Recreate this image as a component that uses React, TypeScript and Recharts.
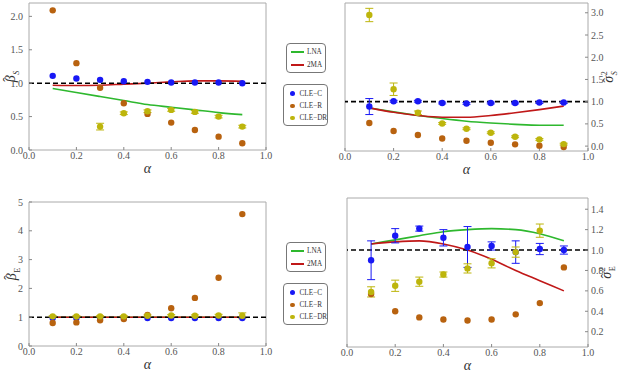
import React from 'react';
import {
    ComposedChart,
    Line,
    Scatter,
    XAxis,
    YAxis,
    ReferenceLine,
    ReferenceArea,
    ErrorBar,
} from 'recharts';

const FONT = '"Liberation Serif", "DejaVu Serif", serif';
const GREEN = '#2eb82e';
const RED = '#c01818';
const BLUE = '#1818f5';
const ORANGE = '#b8620f';
const OLIVE = '#bdb50c';
const FRAME = '#aaaaaa';

const alpha = [0.1, 0.2, 0.3, 0.4, 0.5, 0.6, 0.7, 0.8, 0.9];
const xTicks = [0, 0.2, 0.4, 0.6, 0.8, 1];

// beta_S (top left)
const betaSLna = [0.92, 0.86, 0.8, 0.74, 0.68, 0.64, 0.6, 0.56, 0.53];
const betaSMa = [0.97, 0.965, 0.97, 0.985, 1.0, 1.02, 1.035, 1.035, 1.03];
const betaSC = [1.11, 1.07, 1.05, 1.03, 1.02, 1.01, 1.01, 1.01, 1.0];
const betaSR = [2.09, 1.3, 0.93, 0.7, 0.54, 0.41, 0.3, 0.2, 0.1];
const betaSDR = [null, null, 0.35, 0.55, 0.58, 0.6, 0.57, 0.5, 0.35];
const betaSDRErr = [0, 0, 0.05, 0.02, 0.02, 0.02, 0.02, 0.02, 0.02];

// sigma_S^2 (top right)
const sigSLna = [0.86, 0.77, 0.69, 0.62, 0.56, 0.52, 0.49, 0.47, 0.47];
const sigSMa = [0.86, 0.76, 0.69, 0.65, 0.65, 0.69, 0.75, 0.82, 0.9];
const sigSC = [0.89, 1.01, 1.01, 0.97, 0.96, 0.97, 0.97, 0.98, 0.98];
const sigSCErr = [0.18, 0.02, 0.02, 0.02, 0.02, 0.02, 0.02, 0.02, 0.02];
const sigSR = [0.52, 0.34, 0.25, 0.17, 0.12, 0.075, 0.04, 0.01, -0.02];
const sigSDR = [2.95, 1.28, 0.75, 0.51, 0.39, 0.3, 0.21, 0.15, 0.045];
const sigSDRErr = [0.15, 0.14, 0.04, 0.02, 0.02, 0.02, 0.02, 0.02, 0.02];

// beta_E (bottom left)
const betaELna = [1, 1, 1, 1, 1, 1, 1, 1, 1];
const betaEMa = [1, 1, 1, 1, 1, 1, 1, 1, 1];
const betaEC = [0.97, 0.97, 0.97, 0.97, 0.97, 0.97, 0.97, 0.97, 0.97];
const betaER = [0.8, 0.82, 0.89, 0.94, 1.08, 1.31, 1.67, 2.37, 4.58];
const betaEDR = [1.03, 1.03, 1.03, 1.03, 1.05, 1.06, 1.05, 1.06, 1.05];
const betaEDRErr = [0.02, 0.02, 0.02, 0.02, 0.03, 0.03, 0.03, 0.04, 0.1];

// sigma_E^2 (bottom right)
const sigELna = [1.06, 1.1, 1.14, 1.18, 1.2, 1.21, 1.2, 1.16, 1.09];
const sigEMa = [1.06, 1.08, 1.09, 1.06, 1.0, 0.91, 0.8, 0.7, 0.6];
const sigEC = [0.9, 1.14, 1.21, 1.12, 1.03, 1.04, 0.98, 1.01, 1.0];
const sigECErr = [0.19, 0.07, 0.025, 0.08, 0.2, 0.04, 0.11, 0.055, 0.04];
const sigER = [0.57, 0.4, 0.34, 0.32, 0.31, 0.32, 0.37, 0.48, 0.83];
const sigEDR = [0.59, 0.65, 0.69, 0.76, 0.82, 0.87, 0.98, 1.19, null];
const sigEDRErr = [0.05, 0.055, 0.045, 0.025, 0.045, 0.045, 0.05, 0.065, 0];

const lineNames = ['LNA', '2MA'];
const pointNames = ['CLE−C', 'CLE−R', 'CLE−DR'];

type Num = number | null;

const points = (ys: Num[], errs?: number[]) =>
    alpha
        .map((x, i) => ({ x, y: ys[i], err: errs ? errs[i] : 0 }))
        .filter((p) => p.y !== null);

const curves = (lna: number[], ma: number[]) =>
    alpha.map((x, i) => ({ x, lna: lna[i], ma: ma[i] }));

const dot = (color: string) => (p: any) => <circle cx={p.cx} cy={p.cy} r={3.2} fill={color} />;

const tickStyle = { fontSize: 10, fill: '#555', fontFamily: FONT };

// hat drawn as its own glyph so it sits over the letter in any font
function YLabel({ x, y, main, sub, sup, roman, tall }: any) {
    const hatLift = tall ? -2 : 0;
    return (
        <text
            x={x}
            y={y}
            transform={`rotate(-90, ${x}, ${y})`}
            textAnchor="middle"
            fontFamily={FONT}
            fontSize={14}
            fontStyle="italic"
            fill="#333"
        >
            {main}
            <tspan fontStyle="normal" dx={-6.5} dy={hatLift}>
                ˆ
            </tspan>
            {sup && (
                <tspan fontSize={8} fontStyle="normal" dx={2.5} dy={-hatLift - 6}>
                    {sup}
                </tspan>
            )}
            {sub && (
                <tspan
                    fontSize={8}
                    fontStyle={roman ? 'normal' : 'italic'}
                    dx={sup ? -4 : 2.5}
                    dy={sup ? 10 : -hatLift + 4}
                >
                    {sub}
                </tspan>
            )}
        </text>
    );
}

interface PanelProps {
    left: number;
    top: number;
    width: number;
    height: number;
    margin: { top: number; right: number; left: number; bottom: number };
    yRight?: boolean;
    yWidth: number;
    yDomain: [number, number];
    yTicks: number[];
    yDigits: number;
    label: { main: string; sub: string; sup?: string; roman?: boolean; tall?: boolean };
    labelDx: number;
    lna: number[];
    ma: number[];
    c: Num[];
    cErr?: number[];
    r: Num[];
    dr: Num[];
    drErr?: number[];
}

function Panel(p: PanelProps) {
    const lineData = curves(p.lna, p.ma);
    return (
        <div style={{ position: 'absolute', left: p.left, top: p.top }}>
            <ComposedChart width={p.width} height={p.height} data={lineData} margin={p.margin}>
                <XAxis
                    dataKey="x"
                    type="number"
                    domain={[0, 1]}
                    ticks={xTicks}
                    allowDataOverflow
                    tickFormatter={(v: number) => v.toFixed(1)}
                    tick={tickStyle}
                    axisLine={false}
                    tickLine={{ stroke: '#888' }}
                    tickSize={-3}
                    tickMargin={5}
                    height={30}
                    label={{
                        value: 'α',
                        position: 'insideBottom',
                        offset: 7,
                        fontSize: 14,
                        fontStyle: 'italic',
                        fontFamily: FONT,
                        fill: '#333',
                    }}
                />
                <YAxis
                    type="number"
                    orientation={p.yRight ? 'right' : 'left'}
                    width={p.yWidth}
                    domain={p.yDomain}
                    ticks={p.yTicks}
                    allowDataOverflow
                    tickFormatter={(v: number) => v.toFixed(p.yDigits)}
                    tick={tickStyle}
                    axisLine={false}
                    tickLine={{ stroke: '#888' }}
                    tickSize={-3}
                    tickMargin={p.yRight ? 6 : 9}
                    label={(lp: any) => {
                        const vb = lp.viewBox || lp;
                        const cx = vb.x + p.labelDx;
                        const cy = vb.y + vb.height / 2;
                        return <YLabel x={cx} y={cy} {...p.label} />;
                    }}
                />
                <ReferenceArea
                    x1={0}
                    x2={1}
                    y1={p.yDomain[0]}
                    y2={p.yDomain[1]}
                    fill="none"
                    stroke={FRAME}
                    strokeWidth={1}
                />
                <Line dataKey="lna" type="monotone" stroke={GREEN} strokeWidth={1.6} dot={false} isAnimationActive={false} />
                <Line dataKey="ma" type="monotone" stroke={RED} strokeWidth={1.6} dot={false} isAnimationActive={false} />
                <ReferenceLine y={1} stroke="#000" strokeWidth={1.6} strokeDasharray="5 3" />
                <Scatter data={points(p.c, p.cErr)} dataKey="y" shape={dot(BLUE)} isAnimationActive={false}>
                    <ErrorBar dataKey="err" direction="y" width={4} stroke={BLUE} strokeWidth={1} />
                </Scatter>
                <Scatter data={points(p.r)} dataKey="y" shape={dot(ORANGE)} isAnimationActive={false} />
                <Scatter data={points(p.dr, p.drErr)} dataKey="y" shape={dot(OLIVE)} isAnimationActive={false}>
                    <ErrorBar dataKey="err" direction="y" width={4} stroke={OLIVE} strokeWidth={1} />
                </Scatter>
            </ComposedChart>
        </div>
    );
}

const boxStyle: React.CSSProperties = {
    position: 'absolute',
    border: '1px solid #777',
    borderRadius: 4,
    boxSizing: 'border-box',
    fontFamily: FONT,
    fontSize: 7.2,
    color: '#333',
};

function Legends({ top }: { top: number }) {
    const itemRow = (y: number): React.CSSProperties => ({
        position: 'absolute',
        top: y - 5,
        left: 0,
        display: 'flex',
        alignItems: 'center',
        height: 10,
        whiteSpace: 'nowrap',
    });
    const lineColors = [GREEN, RED];
    const pointColors = [BLUE, ORANGE, OLIVE];
    return (
        <>
            <div style={{ ...boxStyle, left: 286, top: top, width: 40, height: 30 }}>
                {lineNames.map((name, i) => (
                    <div key={name} style={itemRow(8 + i * 13)}>
                        <span
                            style={{
                                display: 'inline-block',
                                width: 13,
                                height: 1.6,
                                background: lineColors[i],
                                marginLeft: 4,
                                marginRight: 3,
                            }}
                        />
                        <span>{name}</span>
                    </div>
                ))}
            </div>
            <div style={{ ...boxStyle, left: 283, top: top + 41, width: 45, height: 42 }}>
                {pointNames.map((name, i) => (
                    <div key={name} style={itemRow(8.5 + i * 12.3)}>
                        <span
                            style={{
                                display: 'inline-block',
                                width: 4.5,
                                height: 4.5,
                                borderRadius: 3,
                                background: pointColors[i],
                                marginLeft: 6,
                                marginRight: 5,
                            }}
                        />
                        <span>{name}</span>
                    </div>
                ))}
            </div>
        </>
    );
}

export default function App() {
    return (
        <div style={{ position: 'absolute', left: 0, top: 0, width: 625, height: 377, background: '#fff' }}>
            <Panel
                left={0}
                top={0}
                width={280}
                height={180}
                margin={{ top: 3, right: 14, left: 0, bottom: 0 }}
                yWidth={29}
                yDomain={[0, 2.2]}
                yTicks={[0, 0.5, 1, 1.5, 2]}
                yDigits={1}
                label={{ main: 'β', sub: 'S', tall: true }}
                labelDx={15}
                lna={betaSLna}
                ma={betaSMa}
                c={betaSC}
                r={betaSR}
                dr={betaSDR}
                drErr={betaSDRErr}
            />
            <Panel
                left={330}
                top={0}
                width={295}
                height={181}
                margin={{ top: 3, right: 0, left: 15, bottom: 0 }}
                yRight
                yWidth={37}
                yDomain={[-0.11, 3.22]}
                yTicks={[0, 0.5, 1, 1.5, 2, 2.5, 3]}
                yDigits={1}
                label={{ main: 'σ', sub: 'S', sup: '2' }}
                labelDx={25}
                lna={sigSLna}
                ma={sigSMa}
                c={sigSC}
                cErr={sigSCErr}
                r={sigSR}
                dr={sigSDR}
                drErr={sigSDRErr}
            />
            <Panel
                left={0}
                top={190}
                width={280}
                height={186}
                margin={{ top: 12, right: 14, left: 0, bottom: 0 }}
                yWidth={29}
                yDomain={[0, 5]}
                yTicks={[0, 1, 2, 3, 4, 5]}
                yDigits={0}
                label={{ main: 'β', sub: 'E', roman: true, tall: true }}
                labelDx={16}
                lna={betaELna}
                ma={betaEMa}
                c={betaEC}
                r={betaER}
                dr={betaEDR}
                drErr={betaEDRErr}
            />
            <Panel
                left={330}
                top={190}
                width={295}
                height={187}
                margin={{ top: 8, right: 0, left: 17, bottom: 0 }}
                yRight
                yWidth={37}
                yDomain={[0.05, 1.51]}
                yTicks={[0.2, 0.4, 0.6, 0.8, 1, 1.2, 1.4]}
                yDigits={1}
                label={{ main: 'σ', sub: 'E', sup: '2', roman: true }}
                labelDx={23}
                lna={sigELna}
                ma={sigEMa}
                c={sigEC}
                cErr={sigECErr}
                r={sigER}
                dr={sigEDR}
                drErr={sigEDRErr}
            />
            <Legends top={43} />
            <Legends top={242} />
        </div>
    );
}
